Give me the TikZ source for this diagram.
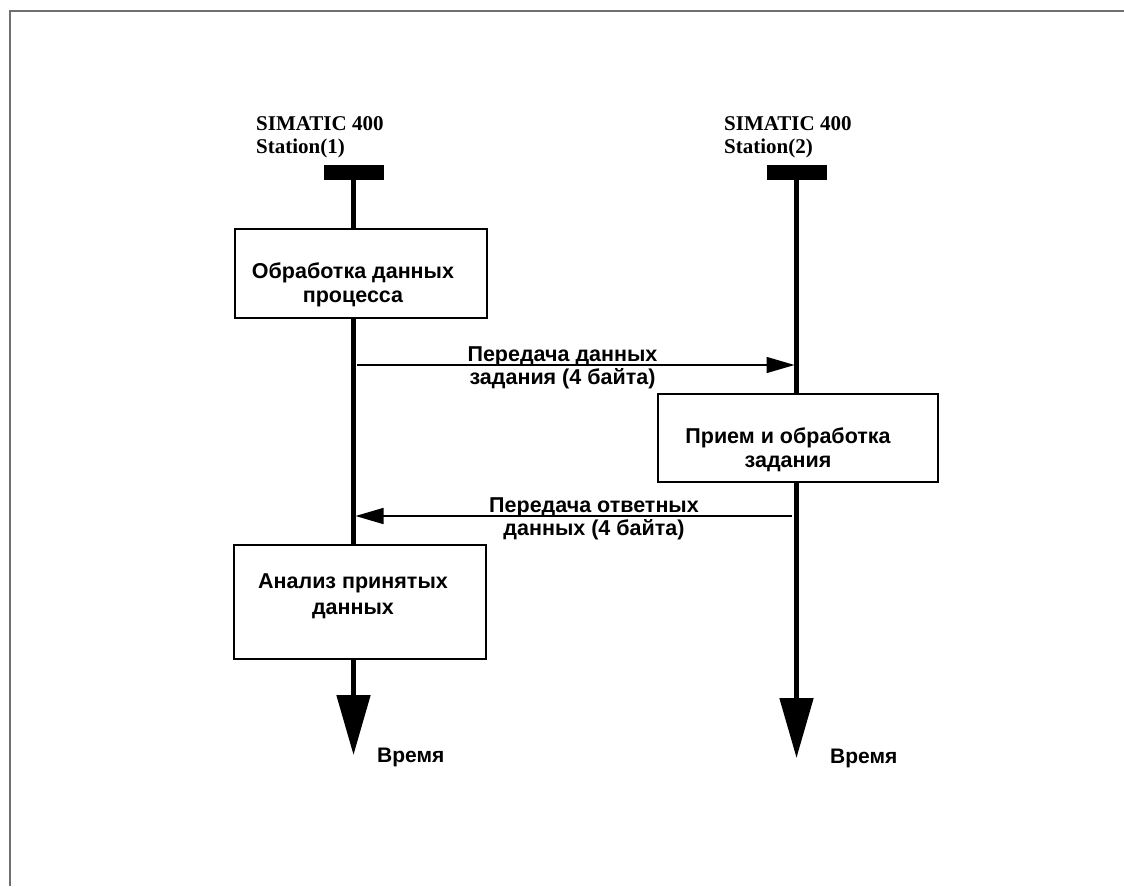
\documentclass[tikz,border=0pt]{standalone}
\usepackage{fontspec}
\setmainfont{Liberation Sans}
\newfontfamily\stfont{Liberation Serif}
\usetikzlibrary{arrows.meta}
\definecolor{framec}{RGB}{112,112,112}
\tikzset{
  stlabel/.style={anchor=north west, inner sep=0pt, align=left, font=\stfont\bfseries\fontsize{21}{23.5}\selectfont},
  bar/.style={fill=black, draw=none, minimum width=60pt, minimum height=15pt, inner sep=0pt},
  lifeline/.style={line width=5pt},
  box/.style={draw=black, fill=white, line width=1.5pt, inner sep=0pt},
  boxtext/.style={anchor=north, inner sep=0pt, align=center, font=\bfseries\fontsize{21.5}{24}\selectfont},
  msgtext/.style={anchor=north, inner sep=0pt, align=center, font=\bfseries\fontsize{21.5}{23}\selectfont},
  msg/.style={line width=1.5pt, -{Triangle[width=16pt,length=28pt]}},
  timearrow/.style={line width=5pt, -{Triangle[width=33pt,length=60pt]}},
  timetext/.style={anchor=base west, inner sep=0pt, font=\bfseries\fontsize{21}{24}\selectfont}
}
\begin{document}
\begin{tikzpicture}[x=1pt,y=-1pt]
\useasboundingbox (0,0) rectangle (1124,886);
\fill[white] (0,0) rectangle (1124,886);
\draw[framec, line width=2pt] (10,886) -- (10,11) -- (1124,11);

% station labels
\node[stlabel] (st1) at (256,116) {SIMATIC 400\\Station(1)};
\node[stlabel] (st2) at (724,116) {SIMATIC 400\\Station(2)};

% bars
\node[bar] (bar1) at (353.5,172.5) {};
\node[bar] (bar2) at (796.5,172.5) {};

% boxes
\node[box, minimum width=252pt, minimum height=89pt] (box1) at (361,273.5) {};
\node[box, minimum width=280pt, minimum height=88pt] (box2) at (798,438) {};
\node[box, minimum width=252pt, minimum height=114pt] (box3) at (360,602) {};

\node[boxtext] (t1) at (353,262.5) {Обработка данных\\процесса};
\node[boxtext] (t2) at (788,428) {Прием и обработка\\задания};
\node[boxtext, font=\bfseries\fontsize{21.5}{26}\selectfont] (t3) at (353,573) {Анализ принятых\\данных};

% lifelines
\draw[lifeline] (bar1.south) -- (bar1.south |- box1.north);
\draw[lifeline] (bar1.south |- box1.south) -- (bar1.south |- box3.north);
\draw[lifeline] (bar2.south) -- (bar2.south |- box2.north);

% time arrows
\coordinate (end1) at (353.5,755);
\coordinate (end2) at (796.5,758);
\draw[timearrow] (bar1.south |- box3.south) -- (end1);
\draw[timearrow] (bar2.south |- box2.south) -- (end2);
\node[timetext] (time1) at (377,762) {Время};
\node[timetext] (time2) at (830,763) {Время};

% messages
\coordinate (m1s) at (357,365);
\coordinate (m1e) at (794.5,365);
\draw[msg] (m1s) -- (m1e);
\node[msgtext] (mt1) at (562.5,347) {Передача данных\\задания (4 байта)};

\coordinate (m2s) at (792,516);
\coordinate (m2e) at (355.5,516);
\draw[msg] (m2s) -- (m2e);
\node[msgtext] (mt2) at (594,498) {Передача ответных\\данных (4 байта)};
\end{tikzpicture}
\end{document}
